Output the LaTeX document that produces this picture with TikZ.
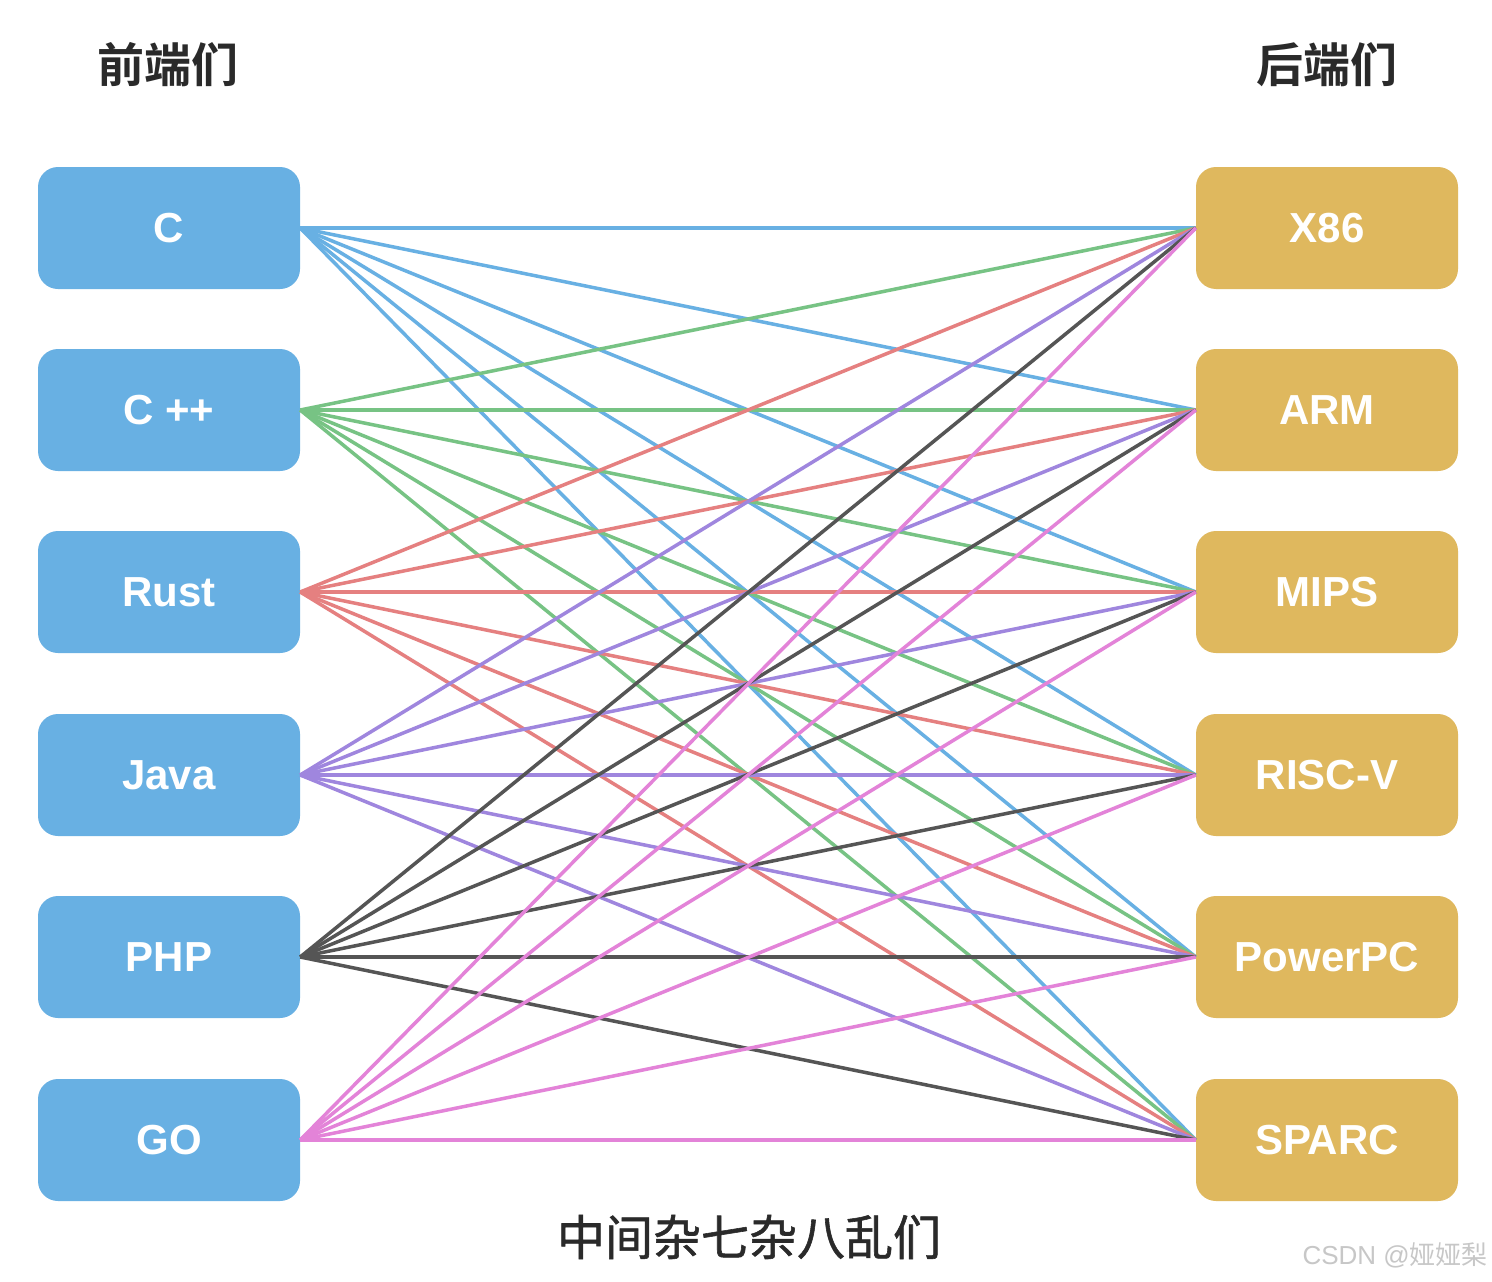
\documentclass[tikz,border=0pt]{standalone}
\usepackage{fontspec}
\setmainfont{Liberation Sans}
\newfontfamily\cjk{Noto Sans CJK SC}
\newfontfamily\cjkmed[FakeBold=1.2]{Noto Sans CJK SC}
\newfontfamily\cjkbold{Noto Sans CJK SC Bold}
\definecolor{boxblue}{HTML}{68B0E3}
\definecolor{boxgold}{HTML}{DFB85E}
\definecolor{lblue}{HTML}{68B0E3}
\definecolor{lgreen}{HTML}{77C384}
\definecolor{lred}{HTML}{E58080}
\definecolor{lpurple}{HTML}{9F86DE}
\definecolor{lgray}{HTML}{555555}
\definecolor{lpink}{HTML}{E383D8}
\definecolor{titlegray}{HTML}{2A2A2A}
\begin{document}
\begin{tikzpicture}[x=1pt,y=-1pt,
  langbox/.style={draw=none,fill=boxblue,rounded corners=20pt,minimum width=262pt,minimum height=122pt,inner sep=0pt,text=white,font=\fontsize{42}{48}\selectfont\bfseries},
  archbox/.style={draw=none,fill=boxgold,rounded corners=20pt,minimum width=262pt,minimum height=122pt,inner sep=0pt,text=white,font=\fontsize{42}{48}\selectfont\bfseries},
  conn/.style={line width=3.5pt},
  title/.style={text=titlegray,font=\cjkbold\fontsize{47}{50}\selectfont}
]
\useasboundingbox (0,0) rectangle (1492,1282);
\fill[white] (0,0) rectangle (1492,1282);

\node[title] (tl) at (168,65) {前端们};
\node[title] (tr) at (1327,65) {后端们};
\node[text=titlegray,font=\cjkmed\fontsize{48}{52}\selectfont] (tb) at (749,1237) {中间杂七杂八乱们};
\node[text=black!22,font=\fontsize{26}{30}\selectfont,anchor=east,inner sep=0pt] (wm) at (1488,1255) {CSDN @{\cjk 娅娅梨}};

\node[langbox] (c) at (169,228) {C};
\node[langbox] (cpp) at (169,410) {C ++};
\node[langbox] (rust) at (169,592) {Rust};
\node[langbox] (java) at (169,775) {Java};
\node[langbox] (php) at (169,957) {PHP};
\node[langbox] (go) at (169,1140) {GO};

\node[archbox] (x86) at (1327,228) {X86};
\node[archbox] (arm) at (1327,410) {ARM};
\node[archbox] (mips) at (1327,592) {MIPS};
\node[archbox] (riscv) at (1327,775) {RISC-V};
\node[archbox] (ppc) at (1327,957) {PowerPC};
\node[archbox] (sparc) at (1327,1140) {SPARC};

\foreach \l/\c in {c/lblue,cpp/lgreen,rust/lred,java/lpurple,php/lgray,go/lpink}{
  \foreach \r in {x86,arm,mips,riscv,ppc,sparc}{
    \draw[conn,color=\c] (\l.east) -- (\r.west);
  }
}
\end{tikzpicture}
\end{document}
